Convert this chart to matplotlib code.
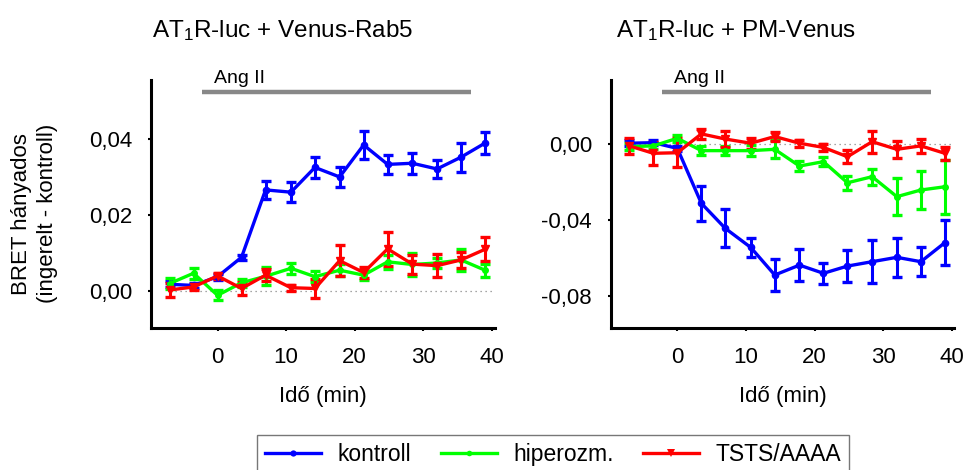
import matplotlib
matplotlib.use('Agg')
import matplotlib.pyplot as plt
import numpy as np

plt.rcParams['font.family'] = ['Liberation Sans', 'DejaVu Sans']
plt.rcParams['mathtext.default'] = 'regular'

# Time points (min)
t = [-7, -3.5, 0, 3.5, 7, 10.7, 14.2, 17.8, 21.3, 24.8, 28.4, 32, 35.5, 39]

# Left panel: AT1R-luc + Venus-Rab5
rab5_kontroll = [0.0018, 0.0015, 0.0038, 0.0089, 0.0266, 0.0260, 0.0325, 0.0300,
                 0.0384, 0.0333, 0.0336, 0.0321, 0.0352, 0.0389]
rab5_kontroll_err = [0.0008, 0.0006, 0.0008, 0.0006, 0.0023, 0.0027, 0.0028, 0.0027,
                     0.0036, 0.0024, 0.0028, 0.0024, 0.0038, 0.0028]
rab5_hiper = [0.0020, 0.0047, -0.0011, 0.0022, 0.0039, 0.0060, 0.0038, 0.0055,
              0.0042, 0.0077, 0.0070, 0.0074, 0.0082, 0.0055]
rab5_hiper_err = [0.0015, 0.0014, 0.0013, 0.0010, 0.0024, 0.0014, 0.0014, 0.0016,
                  0.0013, 0.0018, 0.0030, 0.0014, 0.0028, 0.0017]
rab5_tsts = [0.0003, 0.0011, 0.0040, 0.0007, 0.0042, 0.0009, 0.0007, 0.0080,
             0.0049, 0.0111, 0.0071, 0.0067, 0.0082, 0.0110]
rab5_tsts_err = [0.0019, 0.0007, 0.0008, 0.0017, 0.0015, 0.0008, 0.0024, 0.0040,
                 0.0015, 0.0044, 0.0025, 0.0030, 0.0020, 0.0032]

# Right panel: AT1R-luc + PM-Venus
pm_kontroll = [0.0004, 0.0007, -0.0023, -0.0312, -0.0444, -0.0544, -0.0689, -0.0637,
               -0.0680, -0.0642, -0.0619, -0.0596, -0.0619, -0.0519]
pm_kontroll_err = [0.0015, 0.0012, 0.0015, 0.0093, 0.0100, 0.0051, 0.0086, 0.0084,
                   0.0054, 0.0084, 0.0114, 0.0103, 0.0076, 0.0120]
pm_hiper = [-0.0014, -0.0010, 0.0030, -0.0035, -0.0035, -0.0035, -0.0028, -0.0116,
            -0.0093, -0.0204, -0.0172, -0.0277, -0.0242, -0.0225]
pm_hiper_err = [0.0020, 0.0015, 0.0018, 0.0022, 0.0025, 0.0030, 0.0048, 0.0027,
                0.0022, 0.0037, 0.0043, 0.0098, 0.0098, 0.0141]
pm_tsts = [-0.0010, -0.0049, -0.0046, 0.0053, 0.0026, 0.0004, 0.0039, 0.0004,
           -0.0018, -0.0067, 0.0012, -0.0028, -0.0010, -0.0049]
pm_tsts_err = [0.0041, 0.0060, 0.0075, 0.0025, 0.0040, 0.0030, 0.0023, 0.0018,
               0.0018, 0.0033, 0.0058, 0.0045, 0.0036, 0.0033]

titles = ['AT$_1$R-luc + Venus-Rab5', 'AT$_1$R-luc + PM-Venus']
left_yticks = [0.0, 0.02, 0.04]
left_yticklabels = ['0,00', '0,02', '0,04']
right_yticks = [0.0, -0.04, -0.08]
right_yticklabels = ['0,00', '-0,04', '-0,08']
xticks = [0, 10, 20, 30, 40]
series_names = ['kontroll', 'hiperozm.', 'TSTS/AAAA']

colors = ['#0000ff', '#00ff00', '#ff0000']
markers = ['o', 'o', 'v']
msizes = [4.5, 4, 6]

fig = plt.figure(figsize=(9.68, 4.70), dpi=100)
ax_l = fig.add_axes([0.156, 0.302, 0.355, 0.528])
ax_r = fig.add_axes([0.631, 0.302, 0.355, 0.528])


def draw_panel(ax, series, errs, ylim, yticks, yticklabels, bar_y):
    lines = []
    for vals, err, c, m, ms in zip(series, errs, colors, markers, msizes):
        ax.errorbar(t, vals, yerr=err, color=c, lw=2.4, elinewidth=2.2,
                    capsize=3.5, capthick=2.4, marker=m, markersize=ms,
                    markeredgecolor=c, zorder=3)
        lines.append(ax.plot([], [], color=c, lw=2.4, marker=m, markersize=ms,
                             markeredgewidth=0)[0])
    ax.plot([-7, 40.5], [0, 0], color='#888888', lw=0.9, ls=(0, (1, 3)), zorder=1)
    # Ang II bar
    ax.plot([-2.3, 37], [bar_y, bar_y], color='#888888', lw=3.2,
            solid_capstyle='butt', clip_on=False)
    ax.text(-0.5, bar_y + (ylim[1] - ylim[0]) * 0.02, 'Ang II', fontsize=14,
            ha='left', va='bottom')
    ax.set_xlim(-9.7, 40.4)
    ax.set_ylim(*ylim)
    ax.set_xticks(xticks)
    ax.set_xticklabels([str(x) for x in xticks], fontsize=16)
    ax.set_yticks(yticks)
    ax.set_yticklabels(yticklabels, fontsize=16)
    ax.set_xlabel('Idő (min)', fontsize=16, labelpad=13)
    for side in ['top', 'right']:
        ax.spines[side].set_visible(False)
    for side in ['left', 'bottom']:
        ax.spines[side].set_linewidth(2.2)
    ax.tick_params(direction='out', length=2.5, width=1.5)
    ax.tick_params(axis='x', pad=11)
    ax.tick_params(axis='y', pad=11)
    return lines


handles = draw_panel(ax_l, [rab5_kontroll, rab5_hiper, rab5_tsts],
                     [rab5_kontroll_err, rab5_hiper_err, rab5_tsts_err],
                     (-0.0097, 0.0555), left_yticks, left_yticklabels, 0.0524)
draw_panel(ax_r, [pm_kontroll, pm_hiper, pm_tsts],
           [pm_kontroll_err, pm_hiper_err, pm_tsts_err],
           (-0.0968, 0.0337), right_yticks, right_yticklabels, 0.0274)

fig.text(0.292, 0.935, titles[0], fontsize=17.5, ha='center', va='center')
fig.text(0.760, 0.935, titles[1], fontsize=17.5, ha='center', va='center')

fig.text(0.036, 0.545, 'BRET hányados\n(ingerelt - kontroll)', fontsize=16,
         rotation=90, ha='center', va='center', multialignment='center',
         linespacing=1.3)

leg = fig.legend(handles, series_names, loc='upper center', ncol=3,
                 bbox_to_anchor=(0.5715, 0.075), borderaxespad=0,
                 fontsize=16.5, frameon=True,
                 fancybox=False, edgecolor='#555555', handlelength=2.45,
                 columnspacing=1.3, handletextpad=0.7, borderpad=0.35)
leg.get_frame().set_linewidth(1.0)

fig.savefig('out.png', dpi=100)
